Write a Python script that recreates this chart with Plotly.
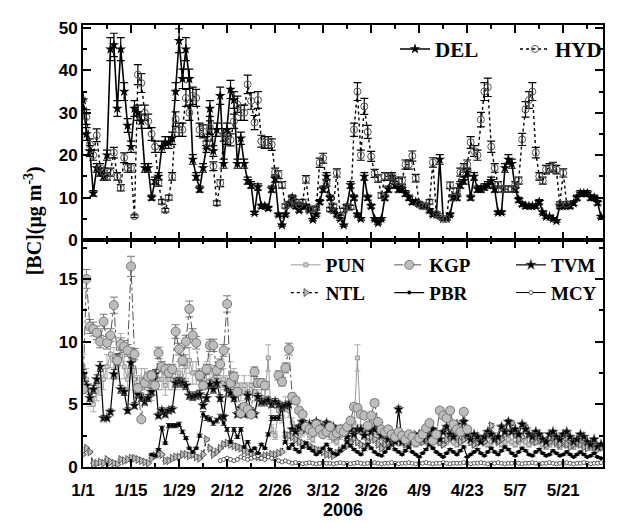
import pandas as pd
import plotly.graph_objects as go
from plotly.subplots import make_subplots

START = '2006-01-01'
N_DAYS = 152
DATES = pd.date_range(START, periods=N_DAYS, freq='D')

X_TICK_DATES = ['2006-01-01', '2006-01-15', '2006-01-29', '2006-02-12', '2006-02-26',
                '2006-03-12', '2006-03-26', '2006-04-09', '2006-04-23', '2006-05-07', '2006-05-21']
X_TICK_LABELS = ['1/1', '1/15', '1/29', '2/12', '2/26', '3/12', '3/26', '4/9', '4/23', '5/7', '5/21']
TOP_Y_TICKS = [0, 10, 20, 30, 40, 50]
BOT_Y_TICKS = [0, 5, 10, 15]

# ---------------- upper panel (daily values, 1 Jan .. 1 Jun 2006) ----------------
DEL = [33, 25, 21, 11, 17, 16, 15, 20, 45, 46,
       31, 45, 35, 27, 22, 31, 30, 28, 17, 17,
       10, 14, 15, 22, 23, 23, 24, 35, 47, 38,
       45, 38, 19, 15, 12, 17, 22, 31, 21, 26,
       34, 18, 26, 35.5, 33, 18, 24, 18, 14, 13,
       6.4, 12.5, 8, 8, 7.5, 12, 14.5, 6, 3.5, 6,
       8.5, 10, 8, 7, 8, 8, 7, 4.8, 6, 9,
       12, 15, 10, 7, 6, 5, 3.5, 8, 13, 10,
       6, 5, 15, 10, 8, 5, 4, 5, 10, 12,
       15, 13, 12, 12, 11, 10, 9, 9, 8.5, 8,
       8, 7, 6, 6, 19, 5, 5, 6, 10, 10,
       13, 14, 16, 10, 15, 12, 12, 12.5, 13, 14,
       12, 6.5, 6.5, 17, 19, 18, 12, 9.5, 8.5, 8,
       8, 8, 8, 9, 6.5, 5.5, 5.5, 5, 4.5, 8,
       8, 8, 8, 8.7, 10, 11, 11, 11, 10, 10,
       8.8, 5.5]

HYD = [33, 29, 22.5, 20, 24.7, 17, 16, 15, 16, 20.6,
       15, 12.3, 19.4, 17, 17, 5.6, 39, 37, 30, 28,
       25, 22, 13.5, 9, 7, 10, 15, 28.5, 26, 26,
       33.5, 30, 34, 33.5, 26, 25.6, 23, 26.5, 17.4, 8.7,
       13.4, 24.8, 24, 23.6, 28, 32, 30, 30, 36.7, 32.8,
       27.7, 33, 23.3, 23, 23, 22.5, 16, 15.4, 13, 8,
       8.5, 9.5, 9, 8.3, 9, 14.3, 7.3, 7.3, 7.5, 18.2,
       19.3, 13.5, 7.2, 8, 15.8, 5.5, 7, 7.7, 7.7, 26,
       35, 20, 31.5, 25.5, 19.7, 15.7, 14.5, 10.5, 15, 15,
       15, 14, 13.7, 14, 17.8, 17.8, 19.8, 14.6, 8.5, 8,
       8, 9, 18.3, 6.2, 5.5, 5, 5, 12.9, 10, 11.6,
       16, 17, 17.8, 23, 21, 20, 28.4, 35, 36, 22,
       17, 13, 12, 12, 12, 12, 13, 14, 23.7, 30.8,
       33, 35, 20.6, 15, 14, 16.6, 17, 17.3, 16.6, 8.5,
       15.8, 8.5, None, None, None, None, None, None, None, None,
       None, None]

# ---------------- lower panel ----------------
PUN = [8.0, 7.0, 5.5, 5.0, 6.0, 6.5, 7.0, 8.0, 9.0, 8.5,
       8.0, 9.5, 8.0, 7.0, 8.5, 7.0, 6.5, 7.0, 7.0, 6.5,
       6.0, 6.5, 7.0, 7.0, 6.5, 7.0, 7.0, 7.0, 7.5, 7.0,
       8.0, 8.5, 7.5, 7.5, 7.0, 7.0, 7.5, 8.0, 7.0, 7.5,
       6.5, 7.0, 6.5, 7.5, 7.0, 6.5, 6.0, 6.5, 6.0, 6.5,
       6.0, 5.5, 5.5, 5.5, 8.7, 3.0, 2.5, 4.5, 4.0, 5.0,
       4.5, 3.5, 3.0, 2.5, 2.8, 3.0, 2.5, 2.2, 2.8, 3.2,
       2.8, 3.0, 2.5, 2.2, 2.0, 2.5, 3.0, 2.8, 3.2, 3.5,
       8.7, 3.0, 2.5, 3.0, 3.5, 3.0, 2.5, 2.0, 2.2, 1.8,
       2.0, 2.5, 2.2, 2.0, 1.8, 2.0, 2.2, 1.8, 2.0, 2.2,
       2.0, 1.8, 2.2, 2.5, 2.0, 1.8, 2.0, 2.2, 2.0, 1.8,
       2.0, 2.2, 2.5, 2.0, 1.8, 2.0, 2.2, 2.0, 1.8, 2.0,
       2.2, 2.0, 1.8, 2.0, 2.2, 2.0, 1.8, 2.0, 2.2, 2.0,
       1.8, 2.0, 2.2, 2.0, 1.8, 1.6, 1.8, 2.0, 1.8, 1.6,
       1.8, 2.0, 1.8, 1.6, 1.8, 2.0, 1.8, 1.6, 1.5, 1.8,
       1.6, 1.5]

KGP = [6.2, 15.0, 11.2, 11.0, 10.7, 10.0, 11.6, 9.9, 10.5, 12.9,
       8.5, 9.8, 9.6, 9.3, 16.0, 9.0, 6.3, 3.8, 6.7, 7.2,
       7.3, 6.5, 9.1, 8.0, 7.8, 7.5, 7.8, 10.8, 9.4, 8.5,
       10.0, 12.6, 10.5, 9.9, 7.3, 6.5, 7.8, 9.7, 9.7, 7.7,
       8.2, 9.3, 13.0, 6.7, 7.2, 6.0, 4.3, 4.8, 4.6, 4.2,
       7.6, 6.7, 6.7, 6.5, None, None, None, 7.3, 6.8, 7.9,
       9.4, 5.6, 5.3, 4.5, 4.2, 3.2, 3.0, 2.8, 3.4, 3.0,
       2.6, 2.8, 3.2, 2.5, 2.7, 3.0, 2.8, 3.2, 3.7, 4.8,
       4.7, 4.2, 4.1, 3.3, 4.1, 5.1, 3.6, 3.0, 2.8, 3.0,
       2.6, 2.4, 2.8, 2.5, 2.2, 2.6, 2.4, 2.0, 2.3, 2.6,
       3.1, 3.5, 2.1, 2.6, 4.5, 4.1, 3.9, 4.5, 3.4, 3.0,
       2.8, 4.4, 3.0, None, None, None, None, None, None, None,
       None, None, None, None, None, None, None, None, None, None,
       None, None, None, None, None, None, None, None, None, None,
       None, None, None, None, None, None, None, None, None, None,
       None, None]

TVM = [7.4, 6.5, 5.5, 6.2, 7.0, 8.0, 3.9, 3.9, 4.4, 7.4,
       8.6, 6.2, 6.0, 4.5, 8.3, 4.9, 5.8, 5.5, 5.2, 5.5,
       6.0, 7.4, 4.1, 4.5, 4.2, 4.5, 4.6, 6.7, 6.8, 6.7,
       6.5, 5.7, 5.6, 5.7, 5.8, 4.9, 5.5, 6.6, 6.2, 6.7,
       5.5, 4.0, 6.4, 5.9, 5.5, 4.2, 4.7, 4.2, 5.7, 4.5,
       4.2, 5.6, 5.2, 5.2, 5.3, 5.0, 5.2, 5.0, 4.8, 4.9,
       5.0, 3.0, 2.8, 3.2, 3.6, 3.0, 3.4, 3.2, 3.6, 3.3,
       3.0, 3.5, 2.8, 3.2, 2.6, 3.0, 2.8, 2.4, 3.0, 2.6,
       3.0, 3.0, 2.5, 3.2, 2.8, 3.0, 3.4, 2.5, 2.6, 2.2,
       2.4, 2.0, 4.6, 2.0, 2.2, 2.4, 2.0, 2.3, 2.6, 2.2,
       2.8, 2.4, 3.0, 2.6, 2.2, 2.8, 3.2, 2.6, 2.4, 3.4,
       2.8, 3.6, 2.6, 2.2, 2.6, 2.4, 2.0, 2.4, 2.8, 2.6,
       2.2, 2.4, 3.2, 2.8, 3.6, 2.8, 3.0, 2.6, 3.4, 3.0,
       2.6, 2.4, 2.8, 2.6, 2.2, 2.0, 2.6, 2.8, 2.4, 2.2,
       2.6, 2.8, 2.4, 2.0, 2.2, 2.6, 2.4, 2.0, 1.8, 2.2,
       1.6, 1.8]

NTL = [1.0, 1.5, 1.2, 0.3, 0.3, 0.4, 0.3, 0.6, 0.4, 0.3,
       0.2, 0.6, 0.5, 0.6, 0.7, 0.7, 0.6, 0.5, 0.4, 0.3,
       0.7, 0.9, 1.0, 1.0, 0.5, 0.5, 0.7, 0.8, 0.8, 1.0,
       1.0, 0.9, 1.0, 0.8, 0.7, 1.0, 2.2, 1.5, 1.0, 1.2,
       1.5, 1.8, 1.9, 1.8, 1.7, 1.6, 1.5, 1.3, 1.2, 1.0,
       0.9, 0.8, 0.8, 0.9, 0.9, 1.0, 1.0, 1.1, 1.2, 2.6,
       2.5, 2.4, 2.2, 2.0, 1.9, 1.8, 1.7, 1.5, 1.4, 1.3,
       1.2, 1.0, 1.0, 0.9, 1.1, 1.3, 1.5, 1.7, 2.0, 2.3,
       2.0, 1.8, 1.6, 2.0, 2.4, 2.2, 1.8, 1.5, 1.8, 2.0,
       2.2, 2.5, 2.3, 2.0, 1.8, 2.0, 2.2, 2.6, 2.4, 2.0,
       2.2, 2.6, 2.8, 2.4, 2.0, 1.8, 2.2, 2.5, 2.8, 2.4,
       2.0, 2.2, 2.4, 2.0, 1.8, 2.0, 2.3, 2.0, 2.6, 3.3,
       2.4, 2.0, 2.2, 2.6, 2.8, 3.5, 2.6, 2.2, 2.4, 3.2,
       2.6, 2.2, 2.0, 2.4, 2.2, 1.8, 2.0, 2.4, 2.0, 1.8,
       2.0, 1.8, 1.6, 1.8, 2.0, 1.8, 1.6, 1.5, 1.8, 1.6,
       1.4, 1.6]

PBR = [None, None, None, None, None, None, None, None, None, None,
       None, None, None, None, None, None, None, None, None, None,
       1.0, 0.9, 1.4, 3.1, 1.9, 3.3, 3.3, 3.3, 3.4, 2.8,
       2.3, 1.5, 1.2, 1.5, 2.5, 4.2, 3.9, 3.8, 3.5, 3.7,
       4.0, 3.5, 3.0, 2.0, 3.0, 2.4, 3.0, 1.6, 2.0, 1.3,
       1.5, 1.1, 1.8, 1.5, 2.6, 3.9, 3.9, 3.9, 4.7, 2.0,
       1.5, 1.8, 1.4, 1.2, 1.6, 1.9, 1.5, 1.3, 1.0, 1.2,
       1.5, 1.8, 1.4, 1.1, 1.0, 1.3, 1.6, 2.0, 1.7, 1.4,
       1.2, 1.0, 1.4, 1.8, 1.5, 1.2, 1.0, 0.9, 1.2, 1.5,
       1.8, 1.4, 1.2, 1.0, 1.3, 1.6, 1.2, 1.0, 0.8, 1.1,
       1.4, 1.8, 1.5, 1.2, 1.0, 0.8, 1.1, 1.4, 1.2, 1.0,
       1.3, 1.6, 0.8, 1.0, 1.2, 1.4, 1.1, 0.9, 1.2, 1.5,
       1.2, 1.0, 1.3, 1.6, 1.4, 1.1, 0.9, 1.2, 1.5, 1.3,
       1.0, 0.9, 1.2, 1.4, 1.1, 0.9, 1.0, 1.3, 1.1, 0.9,
       1.0, 1.2, 1.0, 0.8, 1.0, 1.2, 1.0, 0.8, 0.9, 1.1,
       0.8, 0.7]

MCY = [None, None, None, None, None, None, None, None, None, None,
       None, None, None, None, None, None, None, None, None, None,
       None, None, None, None, None, None, None, None, None, None,
       None, None, None, None, None, None, None, None, None, None,
       0.5, 0.6, 0.7, 0.6, 0.5, 0.6, 0.8, 0.7, 0.6, 0.7,
       0.8, 0.9, 0.7, 0.6, 0.8, 0.7, 0.6, 0.5, 0.4, 0.5,
       0.4, 0.3, 0.35, 0.3, 0.25, 0.3, 0.35, 0.3, 0.25, 0.3,
       0.35, 0.3, 0.3, 0.25, 0.3, 0.35, 0.3, 0.3, 0.25, 0.3,
       0.35, 0.3, 0.25, 0.3, 0.3, 0.35, 0.3, 0.25, 0.3, 0.3,
       0.35, 0.3, 0.25, 0.3, 0.3, 0.35, 0.3, 0.25, 0.3, 0.3,
       0.35, 0.3, 0.25, 0.3, 0.3, 0.35, 0.3, 0.25, 0.3, 0.3,
       0.3, 0.35, 0.3, 0.25, 0.3, 0.3, 0.35, 0.3, 0.25, 0.3,
       0.3, 0.35, 0.3, 0.25, 0.3, 0.3, 0.35, 0.3, 0.25, 0.3,
       0.3, 0.35, 0.3, 0.25, 0.3, 0.3, 0.35, 0.3, 0.25, 0.3,
       0.3, 0.35, 0.3, 0.25, 0.3, 0.3, 0.35, 0.3, 0.25, 0.3,
       0.3, 0.35]

SANS = 'Liberation Sans'
SERIF = 'Liberation Serif'

fig = make_subplots(rows=2, cols=1, shared_xaxes=True, vertical_spacing=0)


def err(pct, color, thick=1.2, width=4):
    return dict(type='percent', value=pct, color=color, thickness=thick, width=width)


# upper panel
fig.add_trace(go.Scatter(x=DATES, y=DEL, name='DEL', mode='lines+markers',
                         line=dict(color='black', width=1.6),
                         marker=dict(symbol='star', size=8, color='black'),
                         error_y=err(6, 'black'), legend='legend'), row=1, col=1)
fig.add_trace(go.Scatter(x=DATES, y=HYD, name='HYD', mode='lines+markers',
                         line=dict(color='black', width=1.4, dash='dot'),
                         marker=dict(symbol='circle-open-dot', size=7, color='#555',
                                     line=dict(width=1)),
                         error_y=err(6, 'black'), legend='legend'), row=1, col=1)

# lower panel
fig.add_trace(go.Scatter(x=DATES, y=PUN, name='PUN', mode='lines+markers',
                         line=dict(color='#9a9a9a', width=1),
                         marker=dict(symbol='square', size=4, color='#d0d0d0',
                                     line=dict(color='#888', width=0.8)),
                         error_y=err(12, '#aaaaaa', 1, 3),
                         legend='legend2'), row=2, col=1)
fig.add_trace(go.Scatter(x=DATES, y=NTL, name='NTL', mode='lines+markers',
                         line=dict(color='black', width=1.2, dash='dot'),
                         marker=dict(symbol='triangle-right', size=7, color='#bdbdbd',
                                     line=dict(color='#444', width=0.8)),
                         error_y=err(5, '#666', 1, 3),
                         legend='legend2'), row=2, col=1)
fig.add_trace(go.Scatter(x=DATES, y=MCY, name='MCY', mode='lines+markers',
                         line=dict(color='black', width=1),
                         marker=dict(symbol='circle', size=4, color='white',
                                     line=dict(color='#333', width=0.8)),
                         legend='legend4'), row=2, col=1)
fig.add_trace(go.Scatter(x=DATES, y=PBR, name='PBR', mode='lines+markers',
                         line=dict(color='black', width=1.2),
                         marker=dict(symbol='circle', size=4, color='black'),
                         error_y=err(5, '#333', 1, 3),
                         legend='legend3'), row=2, col=1)
fig.add_trace(go.Scatter(x=DATES, y=TVM, name='TVM', mode='lines+markers',
                         line=dict(color='black', width=1.2),
                         marker=dict(symbol='star', size=8, color='black',
                                     line=dict(color='#777', width=0.5)),
                         error_y=err(5, '#333', 1, 3),
                         legend='legend4'), row=2, col=1)
fig.add_trace(go.Scatter(x=DATES, y=KGP, name='KGP', mode='lines+markers',
                         line=dict(color='#555', width=1, dash='dashdot'),
                         marker=dict(symbol='circle', size=9, color='#bdbdbd',
                                     line=dict(color='#777', width=1)),
                         error_y=err(5, '#777', 1, 4),
                         legend='legend3'), row=2, col=1)

TICKFONT = dict(family=SANS, size=17, color='black', weight='bold')
DAY_MS = 86400000
XRANGE = ['2006-01-01', '2006-06-01 14:00']

axis_common = dict(showline=True, linewidth=2, linecolor='black', mirror='ticks',
                   ticks='inside', ticklen=8, tickwidth=2, tickcolor='black',
                   showgrid=False, zeroline=False, tickfont=TICKFONT)

fig.update_xaxes(**axis_common, range=XRANGE, type='date',
                 tickmode='array', tickvals=X_TICK_DATES, ticktext=X_TICK_LABELS,
                 minor=dict(ticks='inside', ticklen=4, tickwidth=2, tickcolor='black',
                            dtick=7 * DAY_MS, tick0=START, showgrid=False))
fig.update_xaxes(showticklabels=False, row=1, col=1)
fig.update_xaxes(ticklabelstandoff=7,
                 title=dict(text='2006', font=dict(family=SANS, size=18, color='black',
                                                   weight='bold'), standoff=4),
                 row=2, col=1)

SPLIT = 0.5136
fig.update_yaxes(**axis_common, range=[0, 50.7], tickmode='array', tickvals=TOP_Y_TICKS,
                 minor=dict(ticks='inside', ticklen=4, tickwidth=2, tickcolor='black',
                            dtick=5, tick0=0, showgrid=False),
                 domain=[SPLIT, 1], row=1, col=1)
fig.update_yaxes(**axis_common, range=[0, 18.1], tickmode='array', tickvals=BOT_Y_TICKS,
                 minor=dict(ticks='inside', ticklen=4, tickwidth=2, tickcolor='black',
                            dtick=2.5, tick0=0, showgrid=False),
                 domain=[0, SPLIT], row=2, col=1)

LEGFONT_TOP = dict(family=SERIF, size=21, color='black', weight='bold')
LEGFONT_BOT = dict(family=SERIF, size=19, color='black', weight='bold')

fig.update_layout(
    width=635, height=523,
    margin=dict(l=75, r=8, t=17, b=64),
    paper_bgcolor='white', plot_bgcolor='white',
    showlegend=True,
    legend=dict(orientation='h', x=0.6, xanchor='left', y=0.945, yanchor='middle',
                font=LEGFONT_TOP, bgcolor='rgba(0,0,0,0)', entrywidth=75),
    legend2=dict(x=0.39, xanchor='left', y=0.5, yanchor='top', font=LEGFONT_BOT,
                 bgcolor='rgba(0,0,0,0)', tracegroupgap=0),
    legend3=dict(x=0.589, xanchor='left', y=0.5, yanchor='top', font=LEGFONT_BOT,
                 bgcolor='rgba(0,0,0,0)', tracegroupgap=0, traceorder='reversed'),
    legend4=dict(x=0.823, xanchor='left', y=0.5, yanchor='top', font=LEGFONT_BOT,
                 bgcolor='rgba(0,0,0,0)', tracegroupgap=0, traceorder='reversed'),
    annotations=[dict(text='[BC](μg m<sup>-3</sup>)', textangle=-90, showarrow=False,
                      xref='paper', yref='paper', x=-0.096, y=0.556,
                      xanchor='center', yanchor='middle',
                      font=dict(family=SERIF, size=20, color='black', weight='bold'))],
)

fig.write_html('out.html')
